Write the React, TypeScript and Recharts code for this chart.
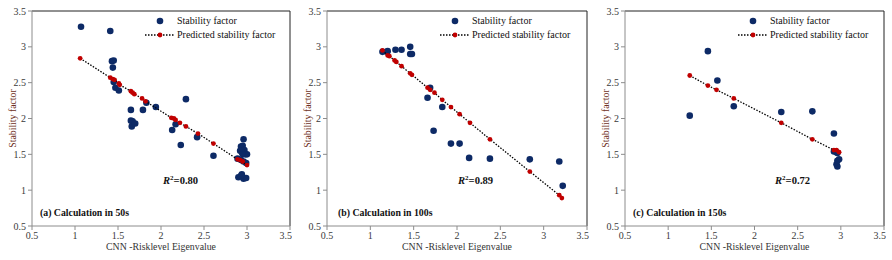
import React from 'react'
import { ScatterChart, Scatter, XAxis, YAxis, ReferenceLine } from 'recharts'

// (a) 50s
const sf50X = [1.07, 1.41, 1.43, 1.45, 1.44, 1.45, 1.47, 1.51, 1.65, 1.65, 1.67, 1.66, 1.7, 1.79, 1.83, 1.94, 2.29, 2.13, 2.17, 2.23, 2.42, 2.61, 2.96, 2.93, 2.95, 2.92, 2.97, 2.94, 2.98, 3.0, 2.95, 2.89, 2.93, 2.96, 2.99, 2.9, 2.94, 2.96, 2.99, 2.93]
const sf50Y = [3.28, 3.22, 2.8, 2.81, 2.71, 2.51, 2.43, 2.39, 2.12, 1.97, 1.96, 1.89, 1.93, 2.12, 2.22, 2.16, 2.27, 1.84, 1.92, 1.63, 1.74, 1.48, 1.71, 1.61, 1.62, 1.55, 1.56, 1.53, 1.5, 1.5, 1.5, 1.44, 1.42, 1.4, 1.38, 1.18, 1.22, 1.16, 1.17, 1.2]
const pred50X = [1.06, 1.41, 1.44, 1.46, 1.51, 1.52, 1.65, 1.67, 1.69, 1.78, 1.82, 2.12, 2.15, 2.17, 2.22, 2.29, 2.43, 2.61, 2.89, 2.92, 2.95, 3.0]
const pred50Y = [2.84, 2.57, 2.55, 2.54, 2.49, 2.47, 2.38, 2.36, 2.34, 2.28, 2.24, 2.01, 2.0, 1.98, 1.94, 1.89, 1.79, 1.65, 1.43, 1.42, 1.4, 1.35]

// (b) 100s
const sf100X = [1.14, 1.19, 1.2, 1.29, 1.36, 1.46, 1.46, 1.48, 1.69, 1.66, 1.83, 1.73, 1.93, 2.03, 2.14, 2.38, 2.84, 3.18, 3.22]
const sf100Y = [2.93, 2.93, 2.94, 2.96, 2.96, 3.0, 2.9, 2.9, 2.43, 2.29, 2.16, 1.83, 1.65, 1.65, 1.45, 1.44, 1.43, 1.4, 1.06]
const pred100X = [1.14, 1.2, 1.22, 1.28, 1.3, 1.36, 1.46, 1.48, 1.66, 1.69, 1.74, 1.83, 1.93, 2.03, 2.15, 2.38, 2.84, 3.18, 3.21]
const pred100Y = [2.95, 2.88, 2.87, 2.81, 2.79, 2.73, 2.63, 2.61, 2.43, 2.4, 2.36, 2.26, 2.16, 2.06, 1.94, 1.71, 1.26, 0.93, 0.89]

// (c) 150s
const sf150X = [1.25, 1.46, 1.57, 1.76, 2.31, 2.67, 2.92, 2.92, 2.95, 2.96, 2.96, 2.98, 2.95, 2.96]
const sf150Y = [2.04, 2.94, 2.53, 2.17, 2.09, 2.1, 1.79, 1.54, 1.53, 1.52, 1.41, 1.43, 1.36, 1.33]
const pred150X = [1.25, 1.46, 1.56, 1.76, 2.31, 2.67, 2.92, 2.95, 2.98]
const pred150Y = [2.6, 2.46, 2.4, 2.28, 1.94, 1.71, 1.56, 1.56, 1.53]

const ticks = [0.5, 1, 1.5, 2, 2.5, 3, 3.5]

const FONT = "'Liberation Serif', 'Times New Roman', serif"
const BLUE = '#0d2a66'
const RED = '#c00000'

const pts = (xs: number[], ys: number[]) => xs.map((x, i) => ({ x, y: ys[i] }))

const LegendBox = () => (
  <div style={{ fontFamily: FONT, fontSize: 10, color: '#111', lineHeight: '14px' }}>
    <div style={{ display: 'flex', alignItems: 'center' }}>
      <svg width={32} height={14}>
        <circle cx={15} cy={7} r={3.3} fill={BLUE} />
      </svg>
      <span>Stability factor</span>
    </div>
    <div style={{ display: 'flex', alignItems: 'center' }}>
      <svg width={32} height={14}>
        <line x1={0} y1={7} x2={30} y2={7} stroke="#000" strokeWidth={1.3} strokeDasharray="1.5 1.5" />
        <circle cx={15} cy={7} r={2.4} fill={RED} />
      </svg>
      <span>Predicted stability factor</span>
    </div>
  </div>
)

interface PanelProps {
  left: number
  plotW: number
  sf: { x: number; y: number }[]
  pred: { x: number; y: number }[]
  tag: string
  r2: string
  r2X: number
  tagX: number
}

function Panel({ left, plotW, sf, pred, tag, r2, r2X, tagX }: PanelProps) {
  const axis = 32
  return (
    <div style={{ position: 'absolute', left, top: 0 }}>
      <ScatterChart
        width={axis + plotW + 2}
        height={260}
        margin={{ top: 11, right: 2, bottom: 14, left: 0 }}
      >
        <XAxis
          type="number"
          dataKey="x"
          domain={[0.5, 3.5]}
          ticks={ticks}
          allowDataOverflow
          height={20}
          stroke="#8c8c8c"
          tickSize={4}
          tick={{ fontSize: 10, fill: '#3a3a3a', fontFamily: FONT }}
          label={{
            value: 'CNN -Risklevel Eigenvalue',
            position: 'bottom',
            offset: -3,
            style: { fontSize: 9.8, fill: '#333', fontFamily: FONT },
          }}
        />
        <YAxis
          type="number"
          dataKey="y"
          domain={[0.5, 3.5]}
          ticks={ticks}
          allowDataOverflow
          width={axis}
          stroke="#8c8c8c"
          tickSize={4}
          tick={{ fontSize: 10, fill: '#3a3a3a', fontFamily: FONT }}
          label={({ viewBox }: any) => (
            <text
              x={12}
              y={viewBox.y + viewBox.height / 2}
              transform={`rotate(-90 12 ${viewBox.y + viewBox.height / 2})`}
              textAnchor="middle"
              dominantBaseline="central"
              fontSize={9.8}
              fontFamily={FONT}
              fill="#6e2f22"
            >
              Stability factor
            </text>
          )}
        />
        <ReferenceLine y={3.5} stroke="#222" strokeWidth={1} />
        <ReferenceLine x={3.5} stroke="#222" strokeWidth={1} />
        <Scatter
          data={sf}
          isAnimationActive={false}
          shape={(p: any) => <circle cx={p.cx} cy={p.cy} r={3.3} fill={BLUE} />}
        />
        <Scatter
          data={pred}
          isAnimationActive={false}
          line={{ stroke: '#000', strokeWidth: 1.3, strokeDasharray: '1.5 1.5' }}
          lineType="joint"
          shape={(p: any) => <circle cx={p.cx} cy={p.cy} r={2.4} fill={RED} />}
        />
      </ScatterChart>
      <div style={{ position: 'absolute', left: axis + 113, top: 14 }}>
        <LegendBox />
      </div>
      <div
        style={{
          position: 'absolute',
          left: axis + r2X,
          top: 174,
          fontFamily: FONT,
          fontSize: 10.6,
          fontWeight: 'bold',
          color: '#111',
          whiteSpace: 'nowrap',
        }}
      >
        <i>R</i>
        <span style={{ fontSize: 7, verticalAlign: 4 }}>2</span>={r2}
      </div>
      <div
        style={{
          position: 'absolute',
          left: axis + tagX,
          top: 207,
          fontFamily: FONT,
          fontSize: 9.8,
          fontWeight: 'bold',
          color: '#111',
          whiteSpace: 'nowrap',
        }}
      >
        {tag}
      </div>
    </div>
  )
}

export default function App() {
  return (
    <div style={{ position: 'absolute', left: 0, top: 0, width: 892, height: 260, background: '#fff' }}>
      <Panel left={0} plotW={258} sf={pts(sf50X, sf50Y)} pred={pts(pred50X, pred50Y)} tag="(a) Calculation in 50s" r2="0.80" r2X={131} tagX={8} />
      <Panel left={295} plotW={260} sf={pts(sf100X, sf100Y)} pred={pts(pred100X, pred100Y)} tag="(b) Calculation in 100s" r2="0.89" r2X={131} tagX={11} />
      <Panel left={593} plotW={259} sf={pts(sf150X, sf150Y)} pred={pts(pred150X, pred150Y)} tag="(c) Calculation in 150s" r2="0.72" r2X={150} tagX={8} />
    </div>
  )
}
